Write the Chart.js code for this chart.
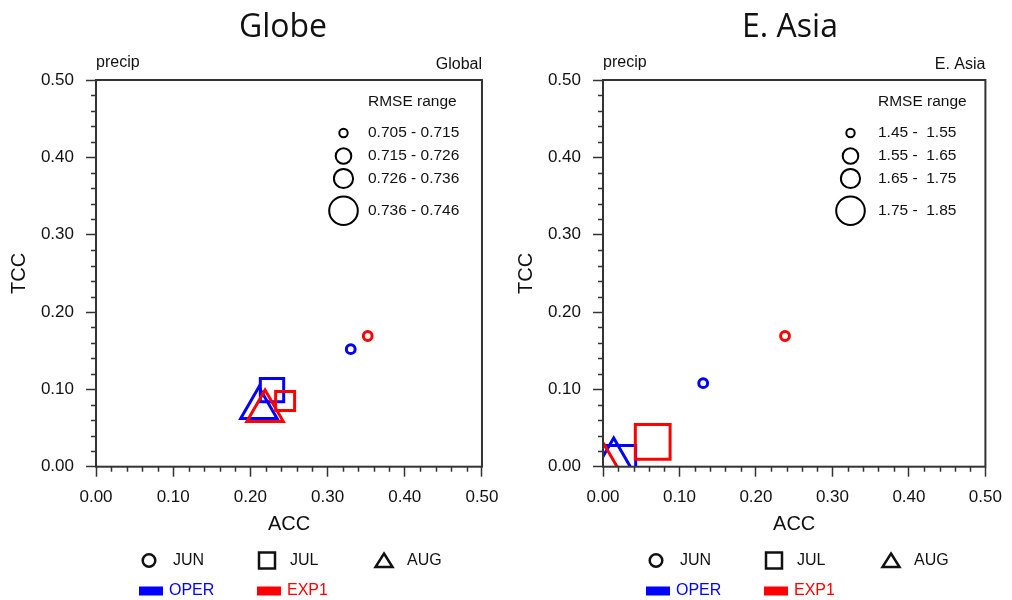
<!DOCTYPE html>
<html>
<head>
<meta charset="utf-8">
<script src="https://cdn.jsdelivr.net/npm/chart.js@4.4.0/dist/chart.umd.min.js"></script>
<style>
  body { margin: 0; background: #fff; width: 1012px; height: 600px; overflow: hidden; position: relative; }
  canvas { position: absolute; top: 0; }
</style>
</head>
<body>
<canvas id="globe" width="506" height="600" style="left:0"></canvas>
<canvas id="asia" width="506" height="600" style="left:507px"></canvas>
<script>
// months, one marker shape each
const months = ["JUN", "JUL", "AUG"];
const axisTicks = [0, 0.1, 0.2, 0.3, 0.4, 0.5];

// Globe
const globeOperAcc = [0.330, 0.228, 0.211];
const globeOperTcc = [0.152, 0.099, 0.076];
const globeOperRmse = [0.709, 0.731, 0.741];
const globeExp1Acc = [0.352, 0.245, 0.219];
const globeExp1Tcc = [0.169, 0.085, 0.072];
const globeExp1Rmse = [0.710, 0.720, 0.740];
const globeRmseBins = [0.705, 0.715, 0.726, 0.736, 0.746];

// E. Asia
const asiaOperAcc = [0.131, 0.020, 0.014];
const asiaOperTcc = [0.108, 0.005, 0.010];
const asiaOperRmse = [1.50, 1.80, 1.80];
const asiaExp1Acc = [0.238, 0.065, 0.002];
const asiaExp1Tcc = [0.169, 0.032, 0.001];
const asiaExp1Rmse = [1.50, 1.80, 1.80];
const asiaRmseBins = [1.45, 1.55, 1.65, 1.75, 1.85];

const FONT = "'Liberation Sans', Arial, sans-serif";
Chart.defaults.font.family = FONT;

const monthShape = ["circle", "rect", "triangle"];
const binRadius = [4.2, 7.8, 9.6, 14.3];
const shapeScale = { circle: 1.05, rect: 1.72, triangle: 1.47 };
const BLUE = "#0000ff", RED = "#ff0000", INK = "#111";

function binIndex(v, bins) {
  for (let i = 0; i < bins.length - 2; i++) if (v < bins[i + 1]) return i;
  return bins.length - 2;
}

function dataset(label, color, acc, tcc, rmse, bins) {
  return {
    label,
    data: acc.map((x, i) => ({ x, y: tcc[i] })),
    pointStyle: monthShape,
    pointRadius: rmse.map((r, i) => binRadius[binIndex(r, bins)] * shapeScale[monthShape[i]]),
    pointBorderWidth: 3,
    pointBorderColor: color,
    pointBackgroundColor: "rgba(0,0,0,0)",
    showLine: false,
    clip: 0
  };
}

function axis(title, horizontal) {
  return {
    type: "linear", min: 0, max: 0.5,
    afterBuildTicks: s => { s.ticks = axisTicks.map(v => ({ value: v })); },
    afterFit: s => {
      if (horizontal) { s.height = 70; s.paddingLeft = 0; s.paddingRight = 0; }
      else { s.width = 96; s.paddingTop = 0; s.paddingBottom = 0; }
    },
    ticks: { callback: v => v.toFixed(2), font: { size: 17 }, color: INK, padding: horizontal ? 10 : 12, maxRotation: 0, autoSkip: false },
    grid: { drawOnChartArea: false, tickLength: 10, tickColor: "#333", tickWidth: 1.5 },
    border: { display: false },
    title: { display: true, text: title, font: { size: 20 }, color: INK,
             padding: horizontal ? { top: 0, bottom: 0.7 } : { top: 7, bottom: 0 } }
  };
}

function panelPlugin(cfg) {
  return {
    id: "panel",
    afterDraw(chart) {
      const { ctx, chartArea: a, scales: { x, y } } = chart;
      ctx.save();
      // minor ticks
      ctx.strokeStyle = "#333"; ctx.lineWidth = 1.5;
      ctx.beginPath();
      for (let i = 1; i < 25; i++) {
        if (i % 5 === 0) continue;
        const px = Math.round(x.getPixelForValue(i * 0.02)) + 0.5;
        ctx.moveTo(px, a.bottom); ctx.lineTo(px, a.bottom + 5);
        const py = Math.round(y.getPixelForValue(i * 0.02)) + 0.5;
        ctx.moveTo(a.left - 5, py); ctx.lineTo(a.left, py);
      }
      ctx.stroke();
      // frame
      ctx.lineWidth = 2; ctx.strokeStyle = "#333";
      ctx.strokeRect(a.left, a.top, a.right - a.left, a.bottom - a.top);

      // titles
      ctx.fillStyle = "#111";
      ctx.font = "32px 'Open Sans', sans-serif";
      ctx.textAlign = "center"; ctx.textBaseline = "alphabetic";
      ctx.fillText(cfg.title, 283, 37);
      ctx.font = "16px " + FONT;
      ctx.textAlign = "left";
      ctx.fillText("precip", a.left, 67);
      ctx.textAlign = "right";
      ctx.fillText(cfg.region, a.right, 69);

      // RMSE size legend
      ctx.textAlign = "left"; ctx.textBaseline = "middle";
      ctx.font = "15.5px " + FONT;
      ctx.fillText("RMSE range", cfg.legendX, 102);
      const rows = [133, 156, 178.5, 210.7];
      ctx.strokeStyle = "#000"; ctx.lineWidth = 2;
      for (let i = 0; i < 4; i++) {
        ctx.beginPath();
        ctx.arc(343.5, rows[i], binRadius[i], 0, Math.PI * 2);
        ctx.stroke();
        ctx.fillText(cfg.fmt(cfg.bins[i], cfg.bins[i + 1]), cfg.legendX, rows[i]);
      }

      // month / experiment legend
      ctx.font = "16px " + FONT;
      ctx.lineWidth = 2.5; ctx.strokeStyle = "#111";
      const r1 = 560.5;
      ctx.beginPath(); ctx.arc(149, r1, 6.3, 0, Math.PI * 2); ctx.stroke();
      ctx.strokeRect(259, r1 - 8, 16, 16);
      ctx.beginPath();
      ctx.moveTo(384, r1 - 7); ctx.lineTo(392.5, r1 + 6.5); ctx.lineTo(375.5, r1 + 6.5); ctx.closePath();
      ctx.stroke();
      ctx.fillText(months[0], 173, r1);
      ctx.fillText(months[1], 290, r1);
      ctx.fillText(months[2], 407, r1);

      const r2 = 591;
      ctx.fillStyle = BLUE; ctx.fillRect(139, r2 - 4.5, 24, 9);
      ctx.fillText("OPER", 169, r2);
      ctx.fillStyle = RED; ctx.fillRect(257, r2 - 4.5, 24, 9);
      ctx.fillText("EXP1", 287, r2);
      ctx.restore();
    }
  };
}

function makeChart(id, cfg, datasets) {
  new Chart(document.getElementById(id), {
    type: "scatter",
    data: { datasets },
    options: {
      responsive: false, animation: false, events: [],
      layout: { padding: { top: 80, left: 0, right: 20, bottom: 63.3 } },
      plugins: { legend: { display: false }, tooltip: { enabled: false } },
      scales: { x: axis("ACC", true), y: axis("TCC", false) }
    },
    plugins: [panelPlugin(cfg)]
  });
}

makeChart("globe", {
  title: "Globe", region: "Global", bins: globeRmseBins, legendX: 368,
  fmt: (a, b) => a.toFixed(3) + " - " + b.toFixed(3)
}, [
  dataset("EXP1", RED, globeExp1Acc, globeExp1Tcc, globeExp1Rmse, globeRmseBins),
  dataset("OPER", BLUE, globeOperAcc, globeOperTcc, globeOperRmse, globeRmseBins)
]);

makeChart("asia", {
  title: "E. Asia", region: "E. Asia", bins: asiaRmseBins, legendX: 371,
  fmt: (a, b) => a.toFixed(2) + " -  " + b.toFixed(2)
}, [
  dataset("EXP1", RED, asiaExp1Acc, asiaExp1Tcc, asiaExp1Rmse, asiaRmseBins),
  dataset("OPER", BLUE, asiaOperAcc, asiaOperTcc, asiaOperRmse, asiaRmseBins)
]);
</script>
</body>
</html>
